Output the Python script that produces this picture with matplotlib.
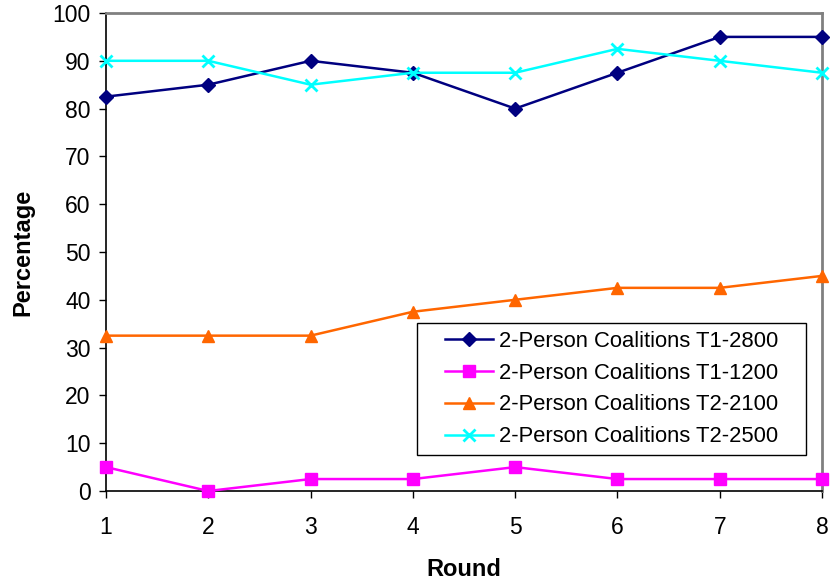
import matplotlib.pyplot as plt
from matplotlib.patches import Rectangle

plt.rcParams['font.family'] = ['Liberation Sans', 'DejaVu Sans']

rounds = [1, 2, 3, 4, 5, 6, 7, 8]
t1_2800 = [82.5, 85, 90, 87.5, 80, 87.5, 95, 95]
t1_1200 = [5, 0, 2.5, 2.5, 5, 2.5, 2.5, 2.5]
t2_2100 = [32.5, 32.5, 32.5, 37.5, 40, 42.5, 42.5, 45]
t2_2500 = [90, 90, 85, 87.5, 87.5, 92.5, 90, 87.5]
labels = ['2-Person Coalitions T1-2800', '2-Person Coalitions T1-1200',
          '2-Person Coalitions T2-2100', '2-Person Coalitions T2-2500']

fig = plt.figure(figsize=(8.3, 5.83), dpi=100)
ax = fig.add_axes([106 / 830, 1 - 491 / 583, (822 - 106) / 830, (491 - 13) / 583])

ax.plot(rounds, t1_2800, color='#000080', marker='D', markersize=7, lw=1.8, label=labels[0], clip_on=False, zorder=3)
ax.plot(rounds, t1_1200, color='#FF00FF', marker='s', markersize=8, lw=1.8, label=labels[1], clip_on=False, zorder=3)
ax.plot(rounds, t2_2100, color='#FF6600', marker='^', markersize=8, lw=1.8, label=labels[2], clip_on=False, zorder=3)
ax.plot(rounds, t2_2500, color='#00FFFF', marker='x', markersize=9, mew=2, lw=1.8, label=labels[3], clip_on=False, zorder=3)

ax.set_xlim(1, 8)
ax.set_ylim(0, 100)
ax.set_xticks(rounds)
ax.set_yticks(range(0, 101, 10))
ax.tick_params(direction='out', length=5, width=1, labelsize=16.5, colors='#000000')
ax.tick_params(axis='x', pad=13)
ax.tick_params(axis='y', pad=6)

for side in ['left', 'bottom']:
    ax.spines[side].set_color('#000000')
    ax.spines[side].set_linewidth(1.2)
for side in ['top', 'right']:
    ax.spines[side].set_color('#808080')
    ax.spines[side].set_linewidth(2)

ax.set_xlabel('Round', fontsize=17, fontweight='bold', labelpad=14)
ax.set_ylabel('Percentage', fontsize=17, fontweight='bold', labelpad=13)

# legend box (drawn separately so the entries sit centred with wide side margins)
x0, x1 = (417 - 106) / 716, (806 - 106) / 716
y0, y1 = (491 - 455) / 478, (491 - 323) / 478
ax.add_patch(Rectangle((x0, y0), x1 - x0, y1 - y0, transform=ax.transAxes,
                       facecolor='white', edgecolor='black', lw=1, zorder=4))
leg = ax.legend(loc='center', bbox_to_anchor=((x0 + x1) / 2, (y0 + y1) / 2),
                fontsize=15.8, frameon=False, handlelength=2.2, borderaxespad=0,
                borderpad=0, labelspacing=0.5, handletextpad=0.25)
leg.set_zorder(5)

plt.savefig('out.png')
